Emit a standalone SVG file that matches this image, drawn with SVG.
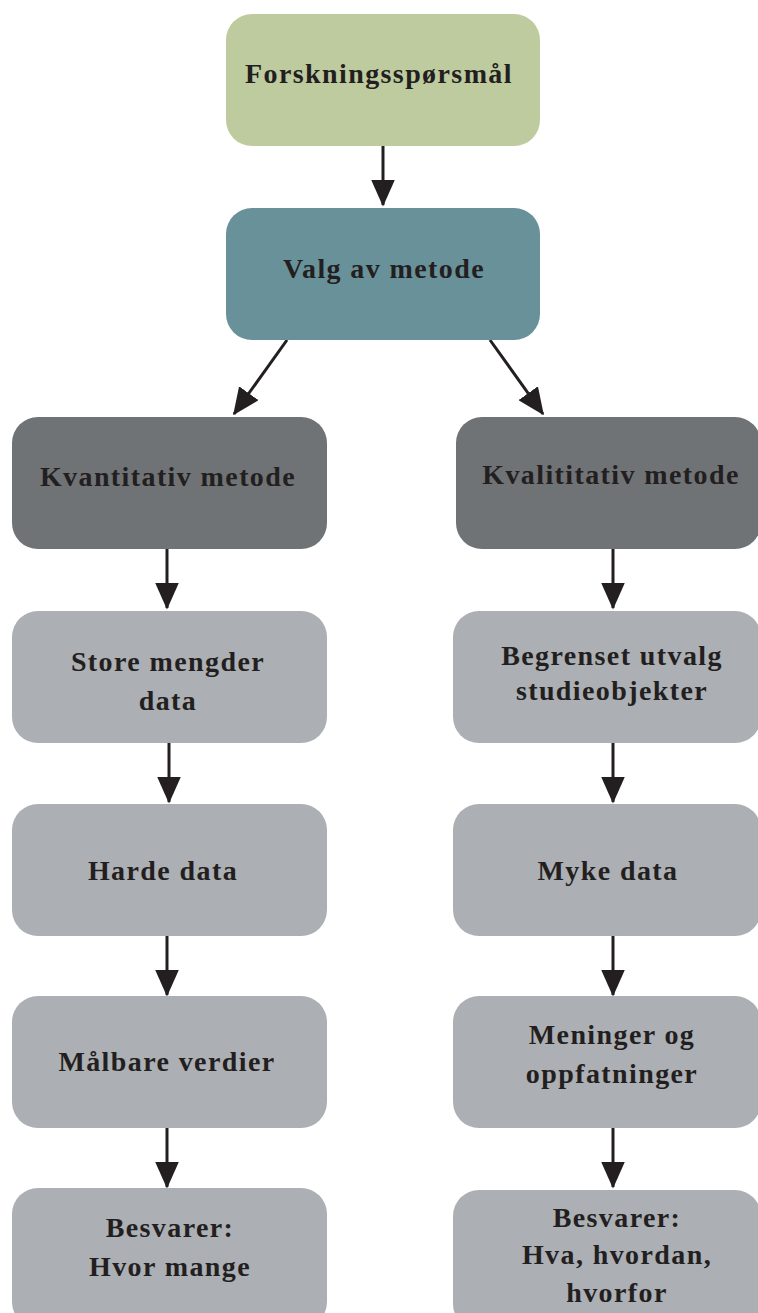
<svg xmlns="http://www.w3.org/2000/svg" width="758" height="1313" viewBox="0 0 758 1313">
<defs>
<style>
.t{font-family:"Liberation Serif","Times New Roman",serif;font-weight:bold;font-size:28px;letter-spacing:1.4px;fill:#231F20;text-anchor:middle}
.c{stroke:#231F20;stroke-width:3;fill:none}
.light{fill:#ACAFB3}
.dark{fill:#6F7376}
</style>
<marker id="ah" markerWidth="9" markerHeight="8" refX="8.5" refY="4" orient="auto" markerUnits="strokeWidth">
<path d="M0,0 L9,4 L0,8 Z" fill="#231F20"/>
</marker>
</defs>
<rect width="758" height="1313" fill="#fff"/>
<g id="connectors">
<line class="c" x1="383" y1="146" x2="383" y2="205" marker-end="url(#ah)"/>
<line class="c" x1="287" y1="340" x2="234" y2="414" marker-end="url(#ah)"/>
<line class="c" x1="490" y1="340" x2="543" y2="414" marker-end="url(#ah)"/>
<line class="c" x1="167" y1="549" x2="167" y2="608" marker-end="url(#ah)"/>
<line class="c" x1="169" y1="743" x2="169" y2="802" marker-end="url(#ah)"/>
<line class="c" x1="167" y1="936" x2="167" y2="995" marker-end="url(#ah)"/>
<line class="c" x1="167" y1="1128" x2="167" y2="1187" marker-end="url(#ah)"/>
<line class="c" x1="613" y1="549" x2="613" y2="608" marker-end="url(#ah)"/>
<line class="c" x1="613" y1="743" x2="613" y2="802" marker-end="url(#ah)"/>
<line class="c" x1="613" y1="936" x2="613" y2="995" marker-end="url(#ah)"/>
<line class="c" x1="613" y1="1128" x2="613" y2="1187" marker-end="url(#ah)"/>
</g>
<g id="n1"><rect x="226" y="14" width="314" height="132" rx="26" fill="#BDCB9F"/><text class="t" x="379" y="83">Forskningsspørsmål</text></g>
<g id="n2"><rect x="226" y="208" width="314" height="132" rx="26" fill="#68919A"/><text class="t" x="384" y="278">Valg av metode</text></g>
<g id="n3"><rect class="dark" x="12" y="417" width="315" height="132" rx="26"/><text class="t" x="168" y="486">Kvantitativ metode</text></g>
<g id="n4"><rect class="dark" x="456" y="417" width="305" height="132" rx="26"/><text class="t" x="611" y="484">Kvalititativ metode</text></g>
<g id="n5"><rect class="light" x="12" y="611" width="315" height="132" rx="26"/><text class="t" x="168" y="671">Store mengder</text><text class="t" x="168" y="710">data</text></g>
<g id="n6"><rect class="light" x="453" y="611" width="308" height="132" rx="26"/><text class="t" x="612" y="665">Begrenset utvalg</text><text class="t" x="612" y="700">studieobjekter</text></g>
<g id="n7"><rect class="light" x="12" y="804" width="315" height="132" rx="26"/><text class="t" x="163" y="880">Harde data</text></g>
<g id="n8"><rect class="light" x="453" y="804" width="308" height="132" rx="26"/><text class="t" x="608" y="880">Myke data</text></g>
<g id="n9"><rect class="light" x="12" y="996" width="315" height="132" rx="26"/><text class="t" x="167" y="1071">Målbare verdier</text></g>
<g id="n10"><rect class="light" x="453" y="996" width="308" height="132" rx="26"/><text class="t" x="612" y="1044">Meninger og</text><text class="t" x="612" y="1083">oppfatninger</text></g>
<g id="n11"><rect class="light" x="12" y="1188" width="315" height="140" rx="26"/><text class="t" x="170" y="1237">Besvarer:</text><text class="t" x="170" y="1276">Hvor mange</text></g>
<g id="n12"><rect class="light" x="453" y="1190" width="308" height="140" rx="26"/><text class="t" x="617" y="1227">Besvarer:</text><text class="t" x="617" y="1264">Hva, hvordan,</text><text class="t" x="617" y="1302">hvorfor</text></g>
</svg>
